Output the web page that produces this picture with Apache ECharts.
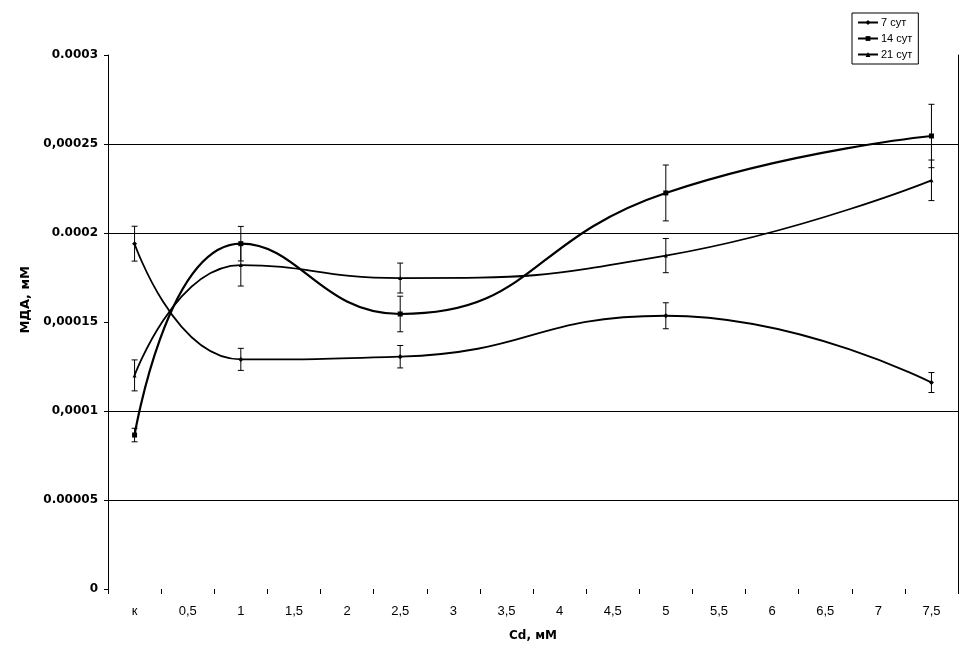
<!DOCTYPE html>
<html>
<head>
<meta charset="utf-8">
<script src="https://cdn.jsdelivr.net/npm/echarts@6/dist/echarts.min.js"></script>
<style>
  html, body { margin: 0; padding: 0; background: #fff; }
  #chart { width: 974px; height: 664px; }
</style>
</head>
<body>
<div id="chart"></div>
<script>
// ось X (категории), точки есть только для части из них
var categories = ['к', '0,5', '1', '1,5', '2', '2,5', '3', '3,5', '4', '4,5', '5', '5,5', '6', '6,5', '7', '7,5'];
var doses = ['к', '1', '2,5', '5', '7,5'];

var yTicks = [0, 0.00005, 0.0001, 0.00015, 0.0002, 0.00025, 0.0003];
var yLabels = ['0', '0.00005', '0,0001', '0,00015', '0.0002', '0,00025', '0.0003'];
// какие линии сетки видны (по тикам снизу вверх)
var gridShown = [false, true, true, false, true, true, false];

var names = ['7 сут', '14 сут', '21 сут'];
var mda7 = [0.000194, 0.000129, 0.0001305, 0.0001535, 0.000116];
var err7 = [0.0000098, 0.0000062, 0.0000063, 0.0000073, 0.0000056];
var mda14 = [0.0000865, 0.000194, 0.0001545, 0.0002225, 0.0002545];
var err14 = [0.0000038, 0.0000097, 0.000010, 0.0000157, 0.0000178];
var mda21 = [0.00012, 0.000182, 0.0001747, 0.0001873, 0.0002296];
var err21 = [0.0000087, 0.0000118, 0.0000084, 0.0000096, 0.0000114];

function full(vals) {
  return categories.map(function (c) {
    var i = doses.indexOf(c);
    return i < 0 ? null : vals[i];
  });
}
function bars(vals, errs) {
  return doses.map(function (d, i) {
    return [categories.indexOf(d), vals[i] - errs[i], vals[i] + errs[i]];
  });
}

function errRender(params, api) {
  var lo = api.coord([api.value(0), api.value(1)]);
  var hi = api.coord([api.value(0), api.value(2)]);
  var w = 3;
  var st = { stroke: '#000', lineWidth: 1 };
  return {
    type: 'group',
    children: [
      { type: 'line', shape: { x1: lo[0], y1: lo[1], x2: hi[0], y2: hi[1] }, style: st },
      { type: 'line', shape: { x1: lo[0] - w, y1: lo[1], x2: lo[0] + w, y2: lo[1] }, style: st },
      { type: 'line', shape: { x1: hi[0] - w, y1: hi[1], x2: hi[0] + w, y2: hi[1] }, style: st }
    ]
  };
}

var chart = echarts.init(document.getElementById('chart'));
var lineFont = 'Liberation Sans';

chart.setOption({
  animation: false,
  backgroundColor: '#fff',
  grid: { left: 108, right: 16, top: 55, bottom: 75 },
  legend: {
    orient: 'vertical',
    left: 852,
    top: 13,
    padding: [4, 6, 4, 5],
    itemGap: 5,
    itemWidth: 20,
    itemHeight: 6,
    borderColor: '#000',
    borderWidth: 1,
    borderRadius: 0,
    backgroundColor: '#fff',
    data: names,
    textStyle: { fontFamily: lineFont, fontSize: 11, color: '#000', padding: [0, 0, 0, -2] }
  },
  xAxis: {
    type: 'category',
    data: categories,
    boundaryGap: true,
    name: 'Cd, мМ',
    nameLocation: 'middle',
    nameGap: 41,
    nameTextStyle: { fontFamily: 'DejaVu Sans', fontWeight: 'bold', fontSize: 12, color: '#000' },
    axisLine: { show: false },
    axisTick: { show: true, length: 5, lineStyle: { color: '#000' } },
    axisLabel: { interval: 0, margin: 16, fontFamily: lineFont, fontSize: 13, color: '#000' },
    splitLine: { show: false }
  },
  yAxis: [
    {
      type: 'value',
      min: 0,
      max: 0.0003,
      interval: 0.00005,
      axisLine: { show: true, lineStyle: { color: '#000' } },
      axisTick: { show: true, length: 4, lineStyle: { color: '#000' } },
      axisLabel: {
        margin: 10,
        fontFamily: 'DejaVu Sans',
        fontWeight: 'bold',
        fontSize: 12,
        color: '#000',
        formatter: function (v) {
          for (var i = 0; i < yTicks.length; i++) {
            if (Math.abs(yTicks[i] - v) < 1e-9) return yLabels[i];
          }
          return '';
        }
      },
      splitLine: {
        show: true,
        showMinLine: true,
        showMaxLine: true,
        lineStyle: {
          width: 1,
          color: gridShown.map(function (s) { return s ? '#000' : 'rgba(0,0,0,0)'; })
        }
      }
    },
    {
      type: 'value',
      position: 'right',
      min: 0,
      max: 0.0003,
      interval: 0.00005,
      axisLine: { show: true, lineStyle: { color: '#000' } },
      axisTick: { show: false },
      axisLabel: { show: false },
      splitLine: { show: false }
    }
  ],
  graphic: [{
    type: 'text',
    left: 19,
    top: 266,
    rotation: Math.PI / 2,
    style: {
      text: 'МДА, мМ',
      fontFamily: 'DejaVu Sans',
      fontWeight: 'bold',
      fontSize: 13,
      fill: '#000'
    }
  }],
  series: [
    {
      name: '7 сут',
      type: 'line',
      data: full(mda7),
      connectNulls: true,
      smooth: 0.5,
      symbol: 'diamond',
      symbolSize: 5,
      lineStyle: { color: '#000', width: 1.8 },
      itemStyle: { color: '#000' },
      z: 3
    },
    {
      name: '14 сут',
      type: 'line',
      data: full(mda14),
      connectNulls: true,
      smooth: 0.5,
      symbol: 'rect',
      symbolSize: 5,
      lineStyle: { color: '#000', width: 2.2 },
      itemStyle: { color: '#000' },
      z: 3
    },
    {
      name: '21 сут',
      type: 'line',
      data: full(mda21),
      connectNulls: true,
      smooth: 0.5,
      symbol: 'triangle',
      symbolSize: 4,
      lineStyle: { color: '#000', width: 1.8 },
      itemStyle: { color: '#000' },
      z: 3
    },
    { type: 'custom', renderItem: errRender, data: bars(mda7, err7), encode: { x: 0, y: [1, 2] }, z: 4 },
    { type: 'custom', renderItem: errRender, data: bars(mda14, err14), encode: { x: 0, y: [1, 2] }, z: 4 },
    { type: 'custom', renderItem: errRender, data: bars(mda21, err21), encode: { x: 0, y: [1, 2] }, z: 4 }
  ]
});
</script>
</body>
</html>
